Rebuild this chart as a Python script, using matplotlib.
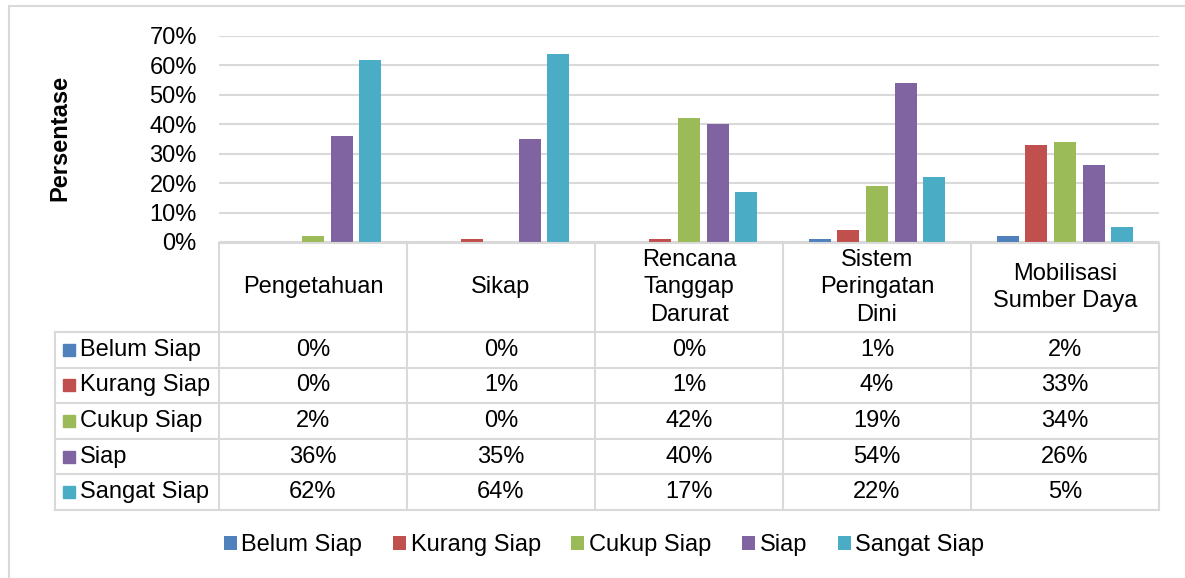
import matplotlib.pyplot as plt
import numpy as np
from matplotlib.patches import Patch
from matplotlib.lines import Line2D

# ---------------------------------------------------------------------------
# Data
# ---------------------------------------------------------------------------
categories = [
    "Pengetahuan",
    "Sikap",
    "Rencana\nTanggap\nDarurat",
    "Sistem\nPeringatan\nDini",
    "Mobilisasi\nSumber Daya",
]
series_names = ["Belum Siap", "Kurang Siap", "Cukup Siap", "Siap", "Sangat Siap"]
belum_siap  = [0, 0, 0, 1, 2]
kurang_siap = [0, 1, 1, 4, 33]
cukup_siap  = [2, 0, 42, 19, 34]
siap        = [36, 35, 40, 54, 26]
sangat_siap = [62, 64, 17, 22, 5]
y_ticks = [0, 10, 20, 30, 40, 50, 60, 70]

series = [belum_siap, kurang_siap, cukup_siap, siap, sangat_siap]
colors = ["#4F81BD", "#C0504D", "#9BBB59", "#8064A2", "#4BACC6"]
grid_c = "#D9D9D9"

plt.rcParams.update({
    "font.family": ["Liberation Sans", "DejaVu Sans"],
    "font.size": 17,
})

W, H = 1185, 578
fig = plt.figure(figsize=(W / 100, H / 100), dpi=100)

# pixel layout of the Excel chart
x_left, x_right = 219, 1159
x_lab = 55
y_top, y_zero = 36, 242
y_tab_top, y_rows, y_tab_bot = 243, 332, 510

# ---------------------------------------------------------------------------
# Bars
# ---------------------------------------------------------------------------
ax = fig.add_axes([x_left / W, 1 - y_zero / H,
                   (x_right - x_left) / W, (y_zero - y_top) / H])
x = np.arange(len(categories))
step, bw = 0.152, 0.117
for i, (vals, c) in enumerate(zip(series, colors)):
    ax.bar(x + (i - 2) * step, vals, width=bw, color=c, zorder=3)

ax.set_xlim(-0.5, len(categories) - 0.5)
ax.set_ylim(0, 70)
ax.set_yticks(y_ticks)
ax.set_yticklabels([f"{t}%" for t in y_ticks])
ax.set_xticks([])
ax.tick_params(axis="y", length=0, pad=16)
ax.grid(axis="y", color=grid_c, lw=1.5, zorder=0)
for s in ax.spines.values():
    s.set_visible(False)

fig.text(60 / W, 1 - 138 / H, "Persentase", rotation=90, weight="bold",
         ha="center", va="center")

# ---------------------------------------------------------------------------
# Data table
# ---------------------------------------------------------------------------
row_h = (y_tab_bot - y_rows) / len(series)
head_h = (y_rows - y_tab_top) / row_h
lab_w = (x_left - x_lab) / ((x_right - x_left) / len(categories))

tax = fig.add_axes([x_lab / W, 1 - y_tab_bot / H,
                    (x_right - x_lab) / W, (y_tab_bot - y_tab_top) / H])
tax.set_xlim(-0.5 - lab_w, len(categories) - 0.5)
tax.set_ylim(head_h + len(series), 0)
tax.axis("off")

lk = dict(color=grid_c, lw=1.5, solid_capstyle="projecting", clip_on=False)
tax.plot([-0.5, len(categories) - 0.5], [0, 0], **lk)
for r in range(len(series) + 1):
    tax.plot([-0.5 - lab_w, len(categories) - 0.5], [head_h + r] * 2, **lk)
for cidx in range(len(categories) + 1):
    tax.plot([cidx - 0.5] * 2, [0, head_h + len(series)], **lk)
tax.plot([-0.5 - lab_w] * 2, [head_h, head_h + len(series)], **lk)

for cidx, cat in enumerate(categories):
    tax.text(cidx, head_h / 2, cat, ha="center", va="center", linespacing=1.3)

px = 1 / ((x_right - x_lab) / (len(categories) + lab_w))  # data units per px
for r, (name, vals, c) in enumerate(zip(series_names, series, colors)):
    yc = head_h + r + 0.5
    tax.add_patch(plt.Rectangle((-0.5 - lab_w + 8 * px, yc - 6 / row_h),
                                12 * px, 12 / row_h, color=c, clip_on=False))
    tax.text(-0.5 - lab_w + 25 * px, yc, name, ha="left", va="center")
    for cidx, v in enumerate(vals):
        tax.text(cidx, yc, f"{v}%", ha="center", va="center")

# ---------------------------------------------------------------------------
# Legend and chart border
# ---------------------------------------------------------------------------
handles = [Patch(facecolor=c, edgecolor="none") for c in colors]
fig.legend(handles, series_names, loc="center", ncol=5,
           bbox_to_anchor=(604 / W, 1 - 545 / H), frameon=False,
           handlelength=0.55, handleheight=0.55, handletextpad=0.2,
           columnspacing=1.3)

fig.add_artist(Line2D([9 / W, 1.0], [1 - 6 / H] * 2, color=grid_c, lw=1.5))
fig.add_artist(Line2D([9 / W] * 2, [0, 1 - 6 / H], color=grid_c, lw=1.5))

fig.savefig("out.png", dpi=100, facecolor="white")
